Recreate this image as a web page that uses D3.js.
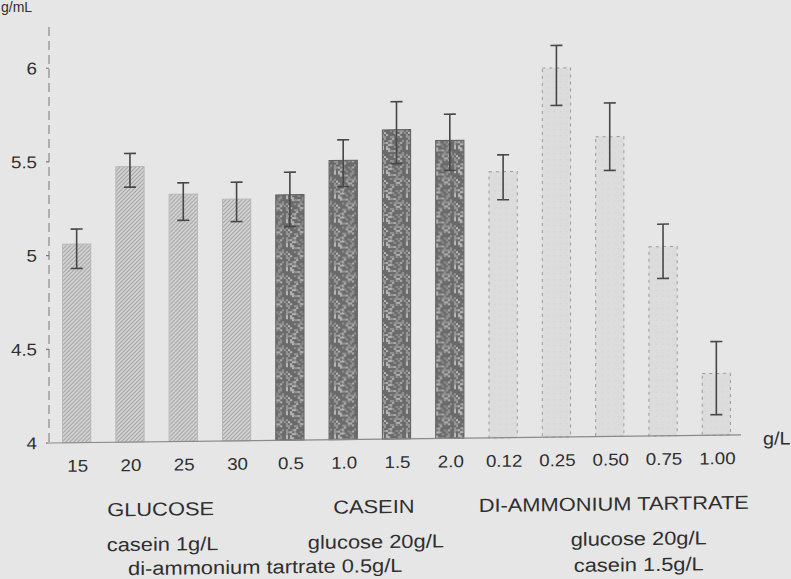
<!DOCTYPE html>
<html>
<head>
<meta charset="utf-8">
<script src="https://cdn.jsdelivr.net/npm/d3@7/dist/d3.min.js"></script>
<style>
  html, body { margin: 0; padding: 0; background: #e6e6e6; }
  svg { display: block; }
  text { font-family: "Liberation Sans", Arial, sans-serif; fill: #2f2f2f; }
</style>
</head>
<body>
<script>
// ---------------- data ----------------
const categories = ["15","20","25","30","0.5","1.0","1.5","2.0","0.12","0.25","0.50","0.75","1.00"];
const groupOf    = ["glucose","glucose","glucose","glucose","casein","casein","casein","casein",
                    "tartrate","tartrate","tartrate","tartrate","tartrate"];
const values     = [5.06, 5.47, 5.32, 5.29, 5.31, 5.49, 5.65, 5.59, 5.42, 5.97, 5.60, 5.01, 4.33];
const errHigh    = [5.14, 5.54, 5.38, 5.38, 5.43, 5.60, 5.80, 5.73, 5.51, 6.09, 5.78, 5.13, 4.50];
const errLow     = [4.93, 5.36, 5.18, 5.17, 5.14, 5.35, 5.47, 5.43, 5.27, 5.77, 5.42, 4.84, 4.11];
const yTicks     = [4, 4.5, 5, 5.5, 6];
const groupNames = ["glucose","casein","tartrate"];
const groupTitles = ["GLUCOSE","CASEIN","DI-AMMONIUM TARTRATE"];
const groupNotes  = [["casein 1g/L"],["glucose 20g/L"],["glucose 20g/L","casein 1.5g/L"]];
const sharedNote  = "di-ammonium tartrate 0.5g/L";
const yUnit = "g/mL";
const xUnit = "g/L";

// ---------------- layout ----------------
const W = 791, H = 579;
const x0 = 50, x1 = 743, yBase = 443, yTop = 27, axisX = 49;
const svg = d3.select("body").append("svg").attr("width", W).attr("height", H);
svg.append("rect").attr("width", W).attr("height", H).attr("fill", "#e6e6e6");

const x = d3.scaleBand().domain(categories).range([x0, x1]).paddingInner(0.47).paddingOuter(0.235);
const y = d3.scaleLinear().domain([4, 6.22]).range([yBase, yTop]);

// patterns
const defs = svg.append("defs");
const hatch = defs.append("pattern").attr("id","hatch").attr("patternUnits","userSpaceOnUse")
  .attr("width",4).attr("height",4);
hatch.append("rect").attr("width",4).attr("height",4).attr("fill","#d8d8d8");
hatch.append("path").attr("d","M-1,1 L1,-1 M0,4 L4,0 M3,5 L5,3").attr("stroke","#9c9c9c").attr("stroke-width",1);

const speck = defs.append("pattern").attr("id","speck").attr("patternUnits","userSpaceOnUse")
  .attr("width",24).attr("height",24);
speck.append("rect").attr("width",24).attr("height",24).attr("fill","#6a6a6a");
let seed = 7;
function lcg(){ seed = (seed * 1103515245 + 12345) % 2147483648; return seed / 2147483648; }
for (let i = 0; i < 24; i += 2) for (let j = 0; j < 24; j += 2) {
  const r = lcg();
  if (r < 0.38) speck.append("rect").attr("x", i).attr("y", j).attr("width", 2).attr("height", 2)
      .attr("fill", r < 0.18 ? "#b8b8b8" : "#969696");
}

const light = defs.append("pattern").attr("id","lightp").attr("patternUnits","userSpaceOnUse")
  .attr("width",6).attr("height",6);
light.append("rect").attr("width",6).attr("height",6).attr("fill","#dcdcdc");
light.append("rect").attr("x",2).attr("y",3).attr("width",1).attr("height",1).attr("fill","#cfcfcf");

// sheared plot (scan is slightly skewed)
const k = 0.0116;
const g = svg.append("g").attr("transform", `matrix(1,${-k},0,1,0,${k*axisX})`);

function label(parent, str, px, py, size, anchor, sx) {
  return parent.append("text")
    .attr("transform", `translate(${px},${py}) scale(${sx},1)`)
    .attr("text-anchor", anchor).attr("font-size", size).text(str);
}

// bars
const fillFor = { glucose: "url(#hatch)", casein: "url(#speck)", tartrate: "url(#lightp)" };
g.selectAll("rect.bar").data(categories).join("rect").attr("class","bar")
  .attr("x", d => x(d)).attr("width", x.bandwidth())
  .attr("y", (d,i) => y(values[i])).attr("height", (d,i) => y(4) - y(values[i]))
  .attr("fill", (d,i) => fillFor[groupOf[i]])
  .attr("stroke", (d,i) => groupOf[i] === "tartrate" ? "#9c9c9c" : groupOf[i] === "casein" ? "#5e5e5e" : "#b8b8b8")
  .attr("stroke-width", 1)
  .attr("stroke-dasharray", (d,i) => groupOf[i] === "tartrate" ? "3,4" : null);

// error bars
const eb = g.selectAll("g.err").data(categories).join("g").attr("class","err")
  .attr("stroke","#474747").attr("stroke-width",1.6);
eb.append("line").attr("x1", d => x(d)+x.bandwidth()/2).attr("x2", d => x(d)+x.bandwidth()/2)
  .attr("y1", (d,i) => y(errHigh[i])).attr("y2", (d,i) => y(errLow[i]));
eb.append("line").attr("x1", d => x(d)+x.bandwidth()/2-6).attr("x2", d => x(d)+x.bandwidth()/2+6)
  .attr("y1", (d,i) => y(errHigh[i])).attr("y2", (d,i) => y(errHigh[i]));
eb.append("line").attr("x1", d => x(d)+x.bandwidth()/2-6).attr("x2", d => x(d)+x.bandwidth()/2+6)
  .attr("y1", (d,i) => y(errLow[i])).attr("y2", (d,i) => y(errLow[i]));

// y axis
g.append("line").attr("x1",axisX).attr("x2",axisX).attr("y1",y(6.22)).attr("y2",y(4))
  .attr("stroke","#8a8a8a").attr("stroke-width",1.2).attr("stroke-dasharray","9,5");
g.selectAll("line.yt").data(yTicks).join("line").attr("class","yt")
  .attr("x1",axisX-3).attr("x2",axisX).attr("y1",d=>y(d)).attr("y2",d=>y(d))
  .attr("stroke","#777").attr("stroke-width",1.2);
g.selectAll("text.yl").data(yTicks).join("text").attr("class","yl")
  .attr("transform", d => `translate(37,${y(d)+6}) scale(1.1,1)`)
  .attr("text-anchor","end").attr("font-size",17).text(d => d3.format("~g")(d));

// x axis baseline
g.append("line").attr("x1",axisX).attr("x2",x1-2).attr("y1",y(4)).attr("y2",y(4))
  .attr("stroke","#8a8a8a").attr("stroke-width",1.2);
g.append("text").attr("transform", `translate(763,${y(4)+10}) scale(1.1,1)`)
  .attr("font-size",18).text(xUnit);

// x tick labels
g.selectAll("text.xl").data(categories).join("text").attr("class","xl")
  .attr("transform", d => `translate(${x(d)+x.bandwidth()/2+1},472) scale(1.1,1)`)
  .attr("text-anchor","middle").attr("font-size",17).text(d => d);

// group titles & notes
const groupCenter = gname => {
  const idx = categories.map((c,i)=>i).filter(i => groupOf[i] === gname);
  const a = x(categories[idx[0]]), b = x(categories[idx[idx.length-1]]) + x.bandwidth();
  return (a + b) / 2;
};
groupNames.forEach((gn, gi) => {
  const cx = groupCenter(gn) + 4;
  label(g, groupTitles[gi], cx, 517, 19, "middle", 1.15);
  groupNotes[gi].forEach((t, li) => label(g, t, cx + (gi === 2 ? 25 : 2), 552 + li * 26, 19, "middle", 1.15));
});
label(g, sharedNote, (groupCenter("glucose") + groupCenter("casein")) / 2 + 2, 576, 19, "middle", 1.15);

// y unit at the top-left corner
svg.append("text").attr("x", 1).attr("y", 12).attr("font-size", 14)
  .attr("fill","#3a3a3a").text(yUnit);
</script>
</body>
</html>
